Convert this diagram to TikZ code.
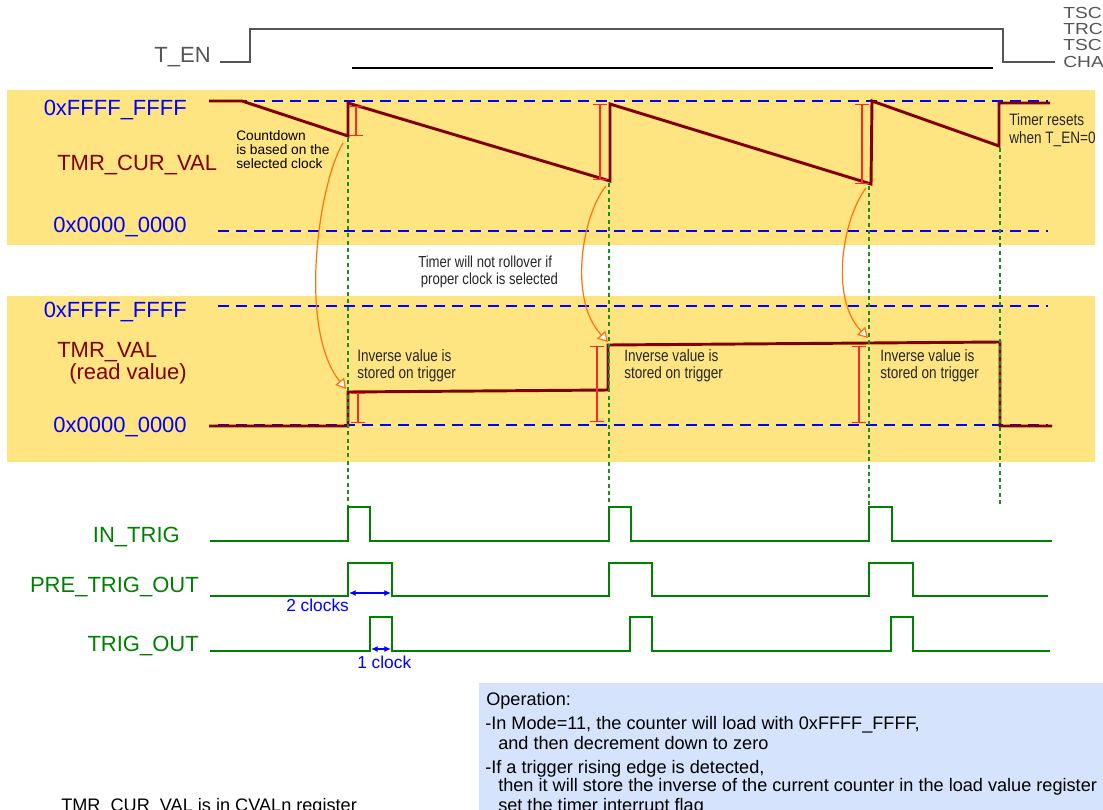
\documentclass[tikz,border=0pt]{standalone}
\usepackage{fontspec}
\setmainfont{Liberation Sans}
\newfontfamily\narrowfont[FakeStretch=0.82]{Liberation Sans}
\newfontfamily\widefont[FakeStretch=1.2]{Liberation Sans}
\usetikzlibrary{arrows.meta}
\definecolor{bandyellow}{RGB}{255,229,130}
\definecolor{curmaroon}{RGB}{128,0,0}
\definecolor{barred}{RGB}{255,40,40}
\definecolor{siggreen}{RGB}{0,128,0}
\definecolor{dashgreen}{RGB}{30,140,30}
\definecolor{trigorange}{RGB}{255,115,10}
\definecolor{engray}{RGB}{85,85,85}
\definecolor{notebg}{RGB}{213,227,252}
\tikzset{
    lbl/.style={font=\fontsize{16.5}{19}\selectfont, inner sep=0pt},
    hexlbl/.style={lbl, text=blue, anchor=base east},
    levelline/.style={blue, line width=1.5pt, dash pattern=on 8.25pt off 5.25pt},
    wave/.style={curmaroon, line width=2.2pt, line join=miter},
    ibar/.style={barred, line width=1.1pt, {Bar[width=10pt]}-{Bar[width=10pt]}},
    trigline/.style={dashgreen, line width=0.8pt, dash pattern=on 3pt off 2.5pt},
    sig/.style={siggreen, line width=1.9pt},
    clkarrow/.style={blue, line width=0.8pt, {Latex[length=5pt,width=4.5pt]}-{Latex[length=5pt,width=4.5pt]}},
    clklbl/.style={font=\fontsize{13}{15}\selectfont, text=blue, inner sep=0pt, anchor=base west},
    trigarrow/.style={trigorange, line width=0.9pt, -{Triangle[length=7.5pt, width=8.5pt, fill=white]}},
    smallnote/.style={font=\fontsize{10.3}{10.5}\selectfont, inner sep=0pt, anchor=base west, align=left},
    narrownote/.style={font=\narrowfont\fontsize{12.4}{12.4}\selectfont, text=black!85, inner sep=0pt, anchor=base west, align=left},
    opline/.style={font=\fontsize{13.6}{15}\selectfont, inner sep=0pt, anchor=base west}
}
\begin{document}
\begin{tikzpicture}[x=0.75pt, y=-0.75pt]
    \useasboundingbox (0,0) rectangle (1103,810);
    \clip (0,0) rectangle (1103,810);
    \fill[bandyellow] (7,90) rectangle (1095,245);
    \fill[bandyellow] (7,296) rectangle (1095,462);
    \fill[notebg] (479,683) rectangle (1110,820);

    \node[lbl, text=engray, anchor=base east] (tenlbl) at (211,62) {T\_EN};
    \draw[engray, line width=1.5pt] (220,62) -- (250,62) -- (250,29) -- (1003,29) -- (1003,62) -- (1055,62);
    \draw[line width=1pt] (352,68) -- (993,68);
    \node[font=\widefont\fontsize{12}{12.2}\selectfont, text=engray, inner sep=0pt, anchor=base west, align=left] (tenregs) at (1063,67) {TSC\\TRC\\TSC\\CHA};

    \foreach \y in {101,231,306,425}
        \draw[levelline] (218,\y) -- (1048,\y);

    \node[hexlbl] (curmax) at (187,115) {0xFFFF\_FFFF};
    \node[lbl, text=curmaroon, anchor=base west] (curlbl) at (57,170) {TMR\_CUR\_VAL};
    \node[hexlbl] (curmin) at (187,232) {0x0000\_0000};
    \node[hexlbl] (valmax) at (187,317) {0xFFFF\_FFFF};
    \node[lbl, text=curmaroon, anchor=base west] (vallbl) at (57,357) {TMR\_VAL};
    \node[lbl, text=curmaroon, anchor=base west] (valread) at (69,379) {(read value)};
    \node[hexlbl] (valmin) at (187,432) {0x0000\_0000};

    \draw[wave] (209,101) -- (242,101) -- (348,136) -- (348,103) -- (610,181) -- (610,104)
        -- (871,184) -- (872,101) -- (999,146) -- (999,103) -- (1050,103);
    \draw[wave] (209,426) -- (348,426) -- (348,392) -- (608,390) -- (608,345) -- (1000,342)
        -- (1000,426) -- (1052,426);

    \draw[ibar] (356,106) -- (356,136);
    \draw[ibar] (600,104) -- (600,180);
    \draw[ibar] (862,104) -- (862,184);
    \draw[ibar] (358,393) -- (358,423);
    \draw[ibar] (597,346) -- (597,422);
    \draw[ibar] (859,346) -- (859,423);

    \draw[trigline] (348,138) -- (348,505);
    \draw[trigline] (609,183) -- (609,512);
    \draw[trigline] (869,186) -- (869,512);
    \draw[trigline] (1000,148) -- (1000,507);

    \coordinate (cur1) at (343,143);
    \coordinate (inv1) at (346,389);
    \coordinate (cur2) at (606,186);
    \coordinate (inv2) at (608,342);
    \coordinate (cur3) at (866,188);
    \coordinate (inv3) at (868,338);
    \draw[trigarrow] (cur1) .. controls (318,185) and (298,330) .. (inv1);
    \draw[trigarrow] (cur2) .. controls (582,215) and (568,300) .. (inv2);
    \draw[trigarrow] (cur3) .. controls (843,218) and (829,298) .. (inv3);

    \node[smallnote] (cntnote) at (236,168) {Countdown\\is based on the\\selected clock};
    \node[narrownote, font=\narrowfont\fontsize{12.4}{13.1}\selectfont] (rstnote) at (1009,143) {Timer resets\\when T\_EN=0};
    \node[narrownote, font=\narrowfont\fontsize{12}{12.7}\selectfont] (rollnote) at (418,284) {Timer will not rollover if\\\,proper clock is selected};
    \node[narrownote] (invnote1) at (357,378) {Inverse value is\\stored on trigger};
    \node[narrownote] (invnote2) at (624,378) {Inverse value is\\stored on trigger};
    \node[narrownote] (invnote3) at (880,378) {Inverse value is\\stored on trigger};

    \node[lbl, text=siggreen, anchor=base east] (inlbl) at (180,542) {IN\_TRIG};
    \node[lbl, text=siggreen, anchor=base east] (prelbl) at (199,592) {PRE\_TRIG\_OUT};
    \node[lbl, text=siggreen, anchor=base east] (outlbl) at (199,651) {TRIG\_OUT};
    \draw[sig] (210,541) -- (348,541) -- (348,507) -- (370,507) -- (370,541) -- (609,541) -- (609,507)
        -- (631,507) -- (631,541) -- (869,541) -- (869,507) -- (892,507) -- (892,541) -- (1052,541);
    \draw[sig] (210,596) -- (348,596) -- (348,563) -- (392,563) -- (392,596) -- (609,596) -- (609,563)
        -- (652,563) -- (652,596) -- (869,596) -- (869,563) -- (913,563) -- (913,596) -- (1048,596);
    \draw[sig] (210,651) -- (370,651) -- (370,617) -- (392,617) -- (392,651) -- (630,651) -- (630,617)
        -- (652,617) -- (652,651) -- (891,651) -- (891,617) -- (913,617) -- (913,651) -- (1050,651);

    \coordinate (pre1a) at (349,593);
    \coordinate (pre1b) at (391,593);
    \coordinate (out1a) at (371,649);
    \coordinate (out1b) at (391,649);
    \draw[clkarrow] (pre1a) -- (pre1b);
    \draw[clkarrow] (out1a) -- (out1b);
    \node[clklbl] (twoclk) at (286,611) {2 clocks};
    \node[clklbl] (oneclk) at (357,668) {1 clock};

    \node[opline] (op0) at (486,705) {Operation:};
    \node[opline] (op1) at (485,729) {-In Mode=11, the counter will load with 0xFFFF\_FFFF,};
    \node[opline] (op2) at (498,749) {and then decrement down to zero};
    \node[opline] (op3) at (485,773) {-If a trigger rising edge is detected,};
    \node[opline] (op4) at (498,791) {then it will store the inverse of the current counter in the load value register};
    \node[opline] (op5) at (498,811) {set the timer interrupt flag};
    \node[opline] (cvalnote) at (61,811) {TMR\_CUR\_VAL is in CVALn register};
\end{tikzpicture}
\end{document}
